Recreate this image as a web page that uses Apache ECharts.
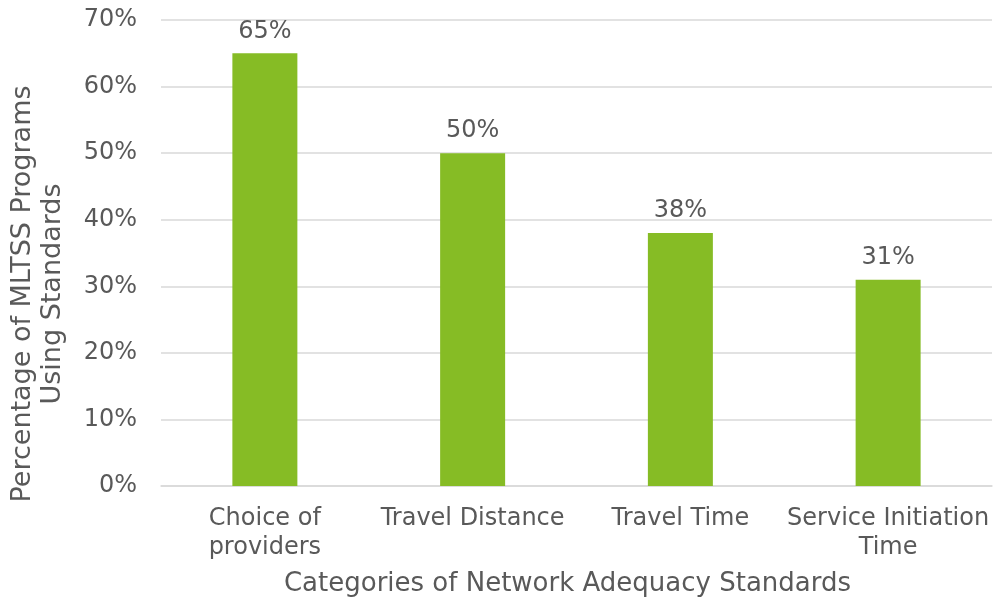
<!DOCTYPE html>
<html>
<head>
<meta charset="utf-8">
<script src="https://cdn.jsdelivr.net/npm/echarts@6/dist/echarts.min.js"></script>
<style>html,body{margin:0;padding:0;background:#fff}#c{width:994px;height:600px}</style>
</head>
<body>
<div id="c"></div>
<script>
const categories = ["Choice of\nproviders", "Travel Distance", "Travel Time", "Service Initiation\nTime"];
const values = [65, 50, 38, 31];
const yTicks = [0, 10, 20, 30, 40, 50, 60, 70];

const FONT = '"DejaVu Sans", Verdana, sans-serif';
const TXT = '#595959';
const FS = 24;
const chart = echarts.init(document.getElementById('c'), null, {renderer: 'canvas'});
chart.setOption({
  animation: false,
  grid: {left: 161, right: 2, top: 20, bottom: 114, containLabel: false, outerBoundsMode: 'none'},
  xAxis: {
    type: 'category',
    data: categories,
    axisTick: {show: false},
    axisLine: {lineStyle: {color: '#d9d9d9', width: 1.5}},
    axisLabel: {color: TXT, fontFamily: FONT, fontSize: FS, lineHeight: 29, margin: 18, interval: 0},
    name: 'Categories of Network Adequacy Standards',
    nameLocation: 'middle',
    nameGap: 85,
    nameTextStyle: {color: TXT, fontFamily: FONT, fontSize: 26, padding: [0, 18, 0, 0]}
  },
  yAxis: {
    type: 'value',
    min: yTicks[0],
    max: yTicks[yTicks.length - 1],
    interval: 10,
    axisLine: {show: false},
    axisTick: {show: false},
    splitLine: {lineStyle: {color: '#d9d9d9', width: 1.5}},
    axisLabel: {color: TXT, fontFamily: FONT, fontSize: FS, margin: 24, formatter: v => v + '%'},
    name: 'Percentage of MLTSS Programs\nUsing Standards',
    nameLocation: 'middle',
    nameGap: 93,
    nameTextStyle: {color: TXT, fontFamily: FONT, fontSize: 27, lineHeight: 30, padding: [0, 82, 0, 0]}
  },
  series: [{
    type: 'bar',
    data: values,
    barWidth: 65,
    itemStyle: {color: '#86BC25'},
    label: {show: true, position: 'top', distance: 10, color: TXT, fontFamily: FONT, fontSize: FS, formatter: p => p.value + '%'}
  }]
});
</script>
</body>
</html>
